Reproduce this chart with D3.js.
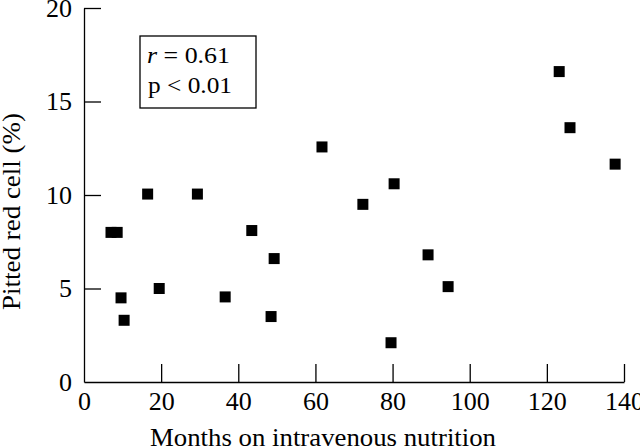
<!DOCTYPE html>
<html>
<head>
<meta charset="utf-8">
<script src="https://cdn.jsdelivr.net/npm/d3@7"></script>
<style>
  body { margin: 0; background: #fff; }
</style>
</head>
<body>
<script>
const months = [7.0, 8.6, 9.6, 10.4, 16.5, 19.5, 29.4, 36.6, 43.5, 48.5, 49.3, 61.7, 72.3, 79.6, 80.4, 89.2, 94.4, 123.2, 126.0, 137.7];
const pitted = [8.0, 8.0, 4.5, 3.3, 10.05, 5.0, 10.05, 4.55, 8.1, 3.5, 6.6, 12.57, 9.5, 2.1, 10.6, 6.8, 5.1, 16.6, 13.6, 11.65];
const xTicks = [0, 20, 40, 60, 80, 100, 120, 140];
const yTicks = [0, 5, 10, 15, 20];

const width = 640;
const height = 448;
const plotLeft = 84, plotRight = 624, plotTop = 8, plotBottom = 382;
const serif = "Liberation Serif";

const svg = d3.select("body")
  .append("svg")
  .attr("width", width)
  .attr("height", height);

const x = d3.scaleLinear().domain([0, 140]).range([plotLeft, plotRight]);
const y = d3.scaleLinear().domain([0, 20]).range([plotBottom, plotTop]);

// axes, ticks point inward
const xAxis = svg.append("g")
  .attr("transform", `translate(0,${plotBottom})`)
  .call(d3.axisBottom(x).tickValues(xTicks).tickSizeInner(-18).tickSizeOuter(0).tickPadding(10));

const yAxis = svg.append("g")
  .attr("transform", `translate(${plotLeft},0)`)
  .call(d3.axisLeft(y).tickValues(yTicks).tickSizeInner(-17).tickSizeOuter(0).tickPadding(12));

[xAxis, yAxis].forEach(g => {
  g.attr("font-family", serif).attr("font-size", 26);
  g.select(".domain").attr("stroke", "#000").attr("stroke-width", 1.3);
  g.selectAll(".tick line").attr("stroke", "#000").attr("stroke-width", 1.3);
  g.selectAll("text").attr("fill", "#000");
});
yAxis.selectAll(".tick").filter(d => d === 0).select("line").remove();
xAxis.selectAll(".tick").filter(d => d === 0).select("line").remove();

// points
const s = 11;
svg.append("g")
  .selectAll("rect")
  .data(months.map((m, i) => [m, pitted[i]]))
  .join("rect")
  .attr("x", d => x(d[0]) - s / 2)
  .attr("y", d => y(d[1]) - s / 2)
  .attr("width", s)
  .attr("height", s)
  .attr("fill", "#000");

// stats box
svg.append("rect")
  .attr("x", 140).attr("y", 36)
  .attr("width", 116).attr("height", 72)
  .attr("fill", "none").attr("stroke", "#000").attr("stroke-width", 1.3);

const t1 = svg.append("text")
  .attr("x", 147).attr("y", 63)
  .style("font-family", serif).style("font-size", "24px")
  .attr("textLength", 83).attr("lengthAdjust", "spacingAndGlyphs");
t1.append("tspan").style("font-style", "italic").text("r");
t1.append("tspan").text(" = 0.61");
svg.append("text")
  .attr("x", 148).attr("y", 93)
  .style("font-family", serif).style("font-size", "24px")
  .attr("textLength", 84).attr("lengthAdjust", "spacingAndGlyphs")
  .text("p < 0.01");

// axis titles
svg.append("text")
  .attr("x", 150).attr("y", 446)
  .style("font-family", serif).style("font-size", "25px")
  .attr("textLength", 346).attr("lengthAdjust", "spacingAndGlyphs")
  .text("Months on intravenous nutrition");

svg.append("text")
  .attr("transform", `translate(20,310) rotate(-90)`)
  .style("font-family", serif).style("font-size", "25px")
  .attr("textLength", 197).attr("lengthAdjust", "spacingAndGlyphs")
  .text("Pitted red cell (%)");
</script>
</body>
</html>
